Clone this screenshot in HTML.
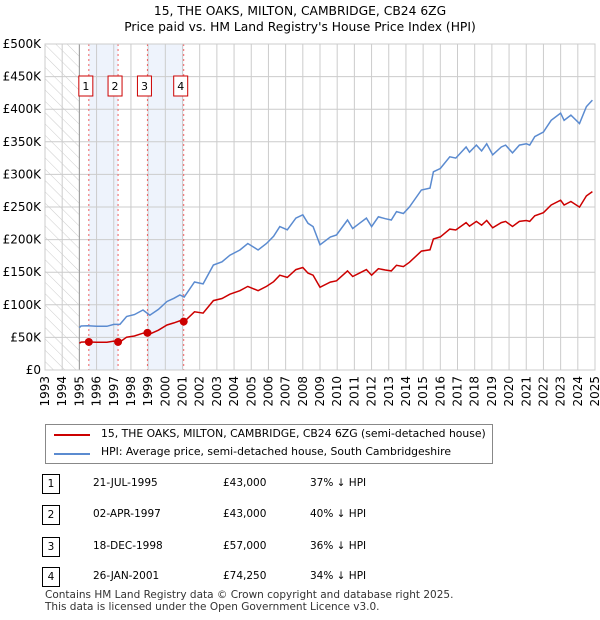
<!DOCTYPE html>
<html><head><meta charset="utf-8"><style>
body{margin:0;background:#fff;font-family:"DejaVu Sans","Liberation Sans",sans-serif;}
#wrap{position:relative;width:600px;height:620px;overflow:hidden;}
.t{position:absolute;font-size:10.8px;color:#000;white-space:nowrap;}
svg text{font-family:"DejaVu Sans","Liberation Sans",sans-serif;}
</style></head><body>
<div id="wrap">
<svg id="chart" width="600" height="620" style="position:absolute;left:0;top:0">
<defs><pattern id="hatch" width="8" height="8" patternUnits="userSpaceOnUse" patternTransform="rotate(-45)"><line x1="0" y1="0" x2="0" y2="8" stroke="#ccc" stroke-width="1"/></pattern></defs>
<text x="300" y="15" text-anchor="middle" font-size="12.3">15, THE OAKS, MILTON, CAMBRIDGE, CB24 6ZG</text>
<text x="300" y="31" text-anchor="middle" font-size="12.3">Price paid vs. HM Land Registry's House Price Index (HPI)</text>
<g id="plot"></g>
</svg>
<div style="position:absolute;left:45px;top:424px;width:446px;height:38px;border:1px solid #888;background:#fff">
 <div style="position:absolute;left:8px;top:9px;width:36px;height:2px;background:#cc0000"></div>
 <div class="t" style="left:55px;top:2px">15, THE OAKS, MILTON, CAMBRIDGE, CB24 6ZG (semi-detached house)</div>
 <div style="position:absolute;left:8px;top:28px;width:36px;height:2px;background:#5b8bd0"></div>
 <div class="t" style="left:55px;top:20px">HPI: Average price, semi-detached house, South Cambridgeshire</div>
</div>
<div id="table"></div>
<div class="t" style="left:45px;top:589px;font-size:10.5px;color:#333;line-height:12px">Contains HM Land Registry data © Crown copyright and database right 2025.<br>This data is licensed under the Open Government Licence v3.0.</div>
</div>
<script>
const hpiYears=[1995.0,1995.1,1995.5,1996.0,1996.6,1997.0,1997.36,1997.75,1998.2,1998.7,1999.1,1999.6,2000.1,2000.5,2000.85,2001.1,2001.7,2002.2,2002.8,2003.3,2003.76,2004.34,2004.8,2005.4,2005.89,2006.3,2006.66,2007.1,2007.6,2008.0,2008.3,2008.6,2009.0,2009.6,2009.96,2010.6,2010.9,2011.3,2011.7,2012.0,2012.4,2012.8,2013.15,2013.45,2013.85,2014.2,2014.9,2015.4,2015.6,2016.0,2016.55,2016.9,2017.5,2017.7,2018.1,2018.4,2018.7,2019.05,2019.55,2019.8,2020.2,2020.6,2021.0,2021.2,2021.5,2022.0,2022.45,2023.0,2023.2,2023.6,2024.1,2024.5,2024.85];
const hpiValues=[65,67.5,68,67,67,70,70,82,85,92,84,93,105,110,115,112,135,132,161,166,176,184,194,184,194,205,220,215,233,238,225,220,192,204,207,230,217,225,233,220,235,232,230,243,240,250,276,279,304,309,327,325,342,334,345,336,347,330,342,345,333,345,347,345,358,365,383,394,383,391,378,404,414];
const saleYears=[1995.55,1997.25,1998.96,2001.07];
const salePrices=[43000,43000,57000,74250];
const saleLabels=["1","2","3","4"];
const saleDates=["21-JUL-1995","02-APR-1997","18-DEC-1998","26-JAN-2001"];
const salePriceText=["£43,000","£43,000","£57,000","£74,250"];
const saleHpiText=["37% ↓ HPI","40% ↓ HPI","36% ↓ HPI","34% ↓ HPI"];
const yTicks=[0,50,100,150,200,250,300,350,400,450,500];
const yTickLabels=["£0","£50K","£100K","£150K","£200K","£250K","£300K","£350K","£400K","£450K","£500K"];
const xTicks=[1993,1994,1995,1996,1997,1998,1999,2000,2001,2002,2003,2004,2005,2006,2007,2008,2009,2010,2011,2012,2013,2014,2015,2016,2017,2018,2019,2020,2021,2022,2023,2024,2025];

const NS="http://www.w3.org/2000/svg";
const X0=45,X1=595,Y0=370,Y1=44;
const xs=y=>X0+(y-1993)*(X1-X0)/32;
const ys=v=>Y0-v*(Y0-Y1)/500;
const g=document.getElementById('plot');
function mk(tag,attrs){const e=document.createElementNS(NS,tag);for(const k in attrs)e.setAttribute(k,attrs[k]);g.appendChild(e);return e;}
function hpiAt(t){for(let i=0;i<hpiYears.length-1;i++){if(t>=hpiYears[i]&&t<=hpiYears[i+1]){const f=(t-hpiYears[i])/(hpiYears[i+1]-hpiYears[i]);return hpiValues[i]+f*(hpiValues[i+1]-hpiValues[i]);}}return hpiValues[hpiValues.length-1];}
let e=mk('rect',{x:X0,y:Y1,width:xs(1995)-X0,height:Y0-Y1,fill:'url(#hatch)'});


[[0,1],[2,3]].forEach(p=>{const r=mk('rect',{x:xs(saleYears[p[0]]),y:Y1,width:xs(saleYears[p[1]])-xs(saleYears[p[0]]),height:Y0-Y1,fill:'#eef3fc'});

});
yTicks.forEach((v,i)=>{const l=mk('line',{x1:X0,x2:X1,y1:ys(v),y2:ys(v),stroke:'#ccc','stroke-width':1});


const t=mk('text',{x:X0-4,y:ys(v)+4,'text-anchor':'end','font-size':12});t.textContent=yTickLabels[i];

});
xTicks.forEach(yr=>{const l=mk('line',{x1:xs(yr),x2:xs(yr),y1:Y1,y2:Y0,stroke:'#ccc','stroke-width':1});


const t=mk('text',{x:0,y:0,'text-anchor':'end','font-size':12,transform:`translate(${xs(yr)+4},${Y0+6}) rotate(-90)`});t.textContent=yr;

});
e=mk('line',{x1:xs(1995),x2:xs(1995),y1:Y1,y2:Y0,stroke:'#999','stroke-width':1});


saleYears.forEach((s,i)=>{const l=mk('line',{x1:xs(s),x2:xs(s),y1:Y1,y2:Y0,stroke:'#f06060','stroke-width':1,'stroke-dasharray':'2,3'});


const b=mk('rect',{x:xs(s)-10,y:76,width:14,height:20,fill:'#fff',stroke:'#cc0000','stroke-width':1});


const t=mk('text',{x:xs(s)-3,y:90,'text-anchor':'middle','font-size':11});t.textContent=saleLabels[i];

});
let d=hpiYears.map((t,i)=>(i?'L':'M')+xs(t).toFixed(1)+','+ys(hpiValues[i]).toFixed(1)).join('');
e=mk('path',{d:d,fill:'none',stroke:'#5b8bd0','stroke-width':1.5});


const ratios=saleYears.map((s,i)=>salePrices[i]/1000/hpiAt(s));
function ratioAt(t){let r=ratios[0];saleYears.forEach((s,i)=>{if(t>=s)r=ratios[i];});return r;}
let pts=[];hpiYears.forEach((t,i)=>{pts.push([t,hpiValues[i]*ratioAt(t)]);});
saleYears.forEach((s,i)=>pts.push([s,salePrices[i]/1000]));
pts.sort((a,b)=>a[0]-b[0]);
d=pts.map((p,i)=>(i?'L':'M')+xs(p[0]).toFixed(1)+','+ys(p[1]).toFixed(1)).join('');
e=mk('path',{d:d,fill:'none',stroke:'#cc0000','stroke-width':1.5});


saleYears.forEach((s,i)=>{const c=mk('circle',{cx:xs(s),cy:ys(salePrices[i]/1000),r:4,fill:'#cc0000'});

});
e=mk('rect',{x:X0,y:Y1,width:X1-X0,height:Y0-Y1,fill:'none',stroke:'#ccc','stroke-width':1});


const tb=document.getElementById('table');
const rowY=[474,505,537,567];
saleLabels.forEach((lab,i)=>{
 const row=document.createElement('div');
 
 
 row.style.cssText=`position:absolute;left:0;top:${rowY[i]}px;width:600px;height:20px;font-size:10.5px`;
 row.innerHTML=`<div style="position:absolute;left:42px;top:0;width:16px;height:18px;border:1px solid #000;text-align:center;line-height:18px">${lab}</div>
 <div style="position:absolute;left:93px;top:3px">${saleDates[i]}</div>
 <div style="position:absolute;left:223px;top:3px">${salePriceText[i]}</div>
 <div style="position:absolute;left:310px;top:3px">${saleHpiText[i]}</div>`;
 tb.appendChild(row);
});
</script>
</body></html>
